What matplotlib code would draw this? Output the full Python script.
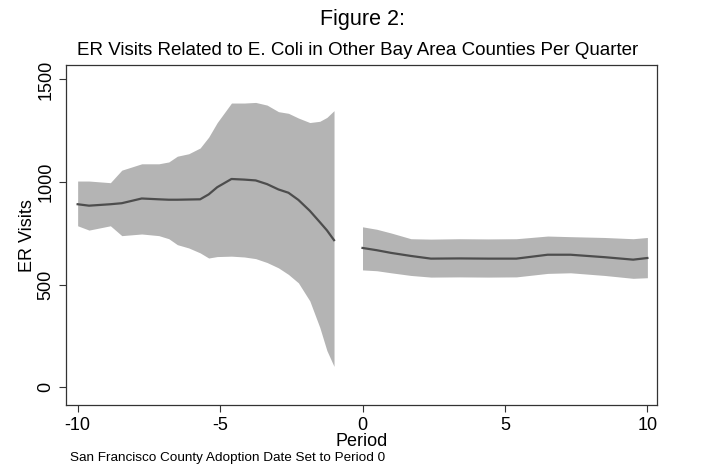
import matplotlib
matplotlib.use("Agg")
import matplotlib.pyplot as plt

plt.rcParams['font.family'] = ['Liberation Sans', 'DejaVu Sans']

# pre-adoption periods
pre_x = [-10, -9.6, -8.85, -8.45, -7.75, -7.15, -6.8, -6.5, -6.1, -5.7, -5.4, -5.1,
         -4.6, -4.15, -3.75, -3.35, -2.95, -2.6, -2.25, -1.85, -1.5, -1.25, -1.0]
pre_mean = [892, 885, 892, 897, 920, 916, 914, 914, 915, 916, 940, 975,
            1015, 1012, 1008, 990, 964, 948, 913, 860, 805, 765, 717]
pre_hi = [1005, 1005, 997, 1058, 1089, 1089, 1098, 1126, 1138, 1166, 1219, 1290,
          1385, 1385, 1388, 1375, 1343, 1335, 1312, 1290, 1296, 1315, 1348]
pre_lo = [787, 766, 787, 739, 747, 739, 724, 695, 679, 655, 630, 637,
          639, 635, 627, 608, 582, 550, 509, 421, 292, 179, 102]

# post-adoption periods
post_x = [0, 0.5, 1.0, 1.7, 2.4, 3.4, 4.4, 5.4, 6.5, 7.3, 8.5, 9.5, 10]
post_mean = [679, 668, 655, 640, 627, 628, 627, 627, 646, 646, 634, 622, 630]
post_hi = [782, 770, 752, 724, 722, 724, 723, 724, 737, 734, 730, 724, 730]
post_lo = [572, 568, 558, 545, 537, 538, 537, 538, 555, 558, 545, 531, 534]

band = '#b4b4b4'
line = '#4d4d4d'

fig = plt.figure(figsize=(7.2, 4.75), dpi=100)
ax = fig.add_axes([0.092, 0.147, 0.821, 0.716])

for x, m, hi, lo in [(pre_x, pre_mean, pre_hi, pre_lo),
                     (post_x, post_mean, post_hi, post_lo)]:
    ax.fill_between(x, lo, hi, color=band, linewidth=0)
    ax.plot(x, m, color=line, linewidth=1.6)

ax.set_xlim(-10.4, 10.35)
ax.set_ylim(-87, 1570)
ax.set_xticks([-10, -5, 0, 5, 10])
ax.set_xticklabels(['-10', '-5', '0', '5', '10'])
ax.set_yticks([0, 500, 1000, 1500])
ax.tick_params(axis='both', labelsize=13, length=5, width=0.8, color='#333333')
plt.setp(ax.get_yticklabels(), rotation=90, va='center')
for s in ax.spines.values():
    s.set_linewidth(0.9)
    s.set_color('#333333')

ax.set_xlabel('Period', fontsize=13, labelpad=-1)
ax.set_ylabel('ER Visits', fontsize=13, labelpad=1)

fig.text(0.503, 0.958, 'Figure 2:', ha='center', va='center', fontsize=15.5)
fig.text(0.497, 0.893, 'ER Visits Related to E. Coli in Other Bay Area Counties Per Quarter',
         ha='center', va='center', fontsize=13.5)
fig.text(0.097, 0.036, 'San Francisco County Adoption Date Set to Period 0',
         ha='left', va='center', fontsize=9.7)

fig.savefig('out.png', dpi=100)
